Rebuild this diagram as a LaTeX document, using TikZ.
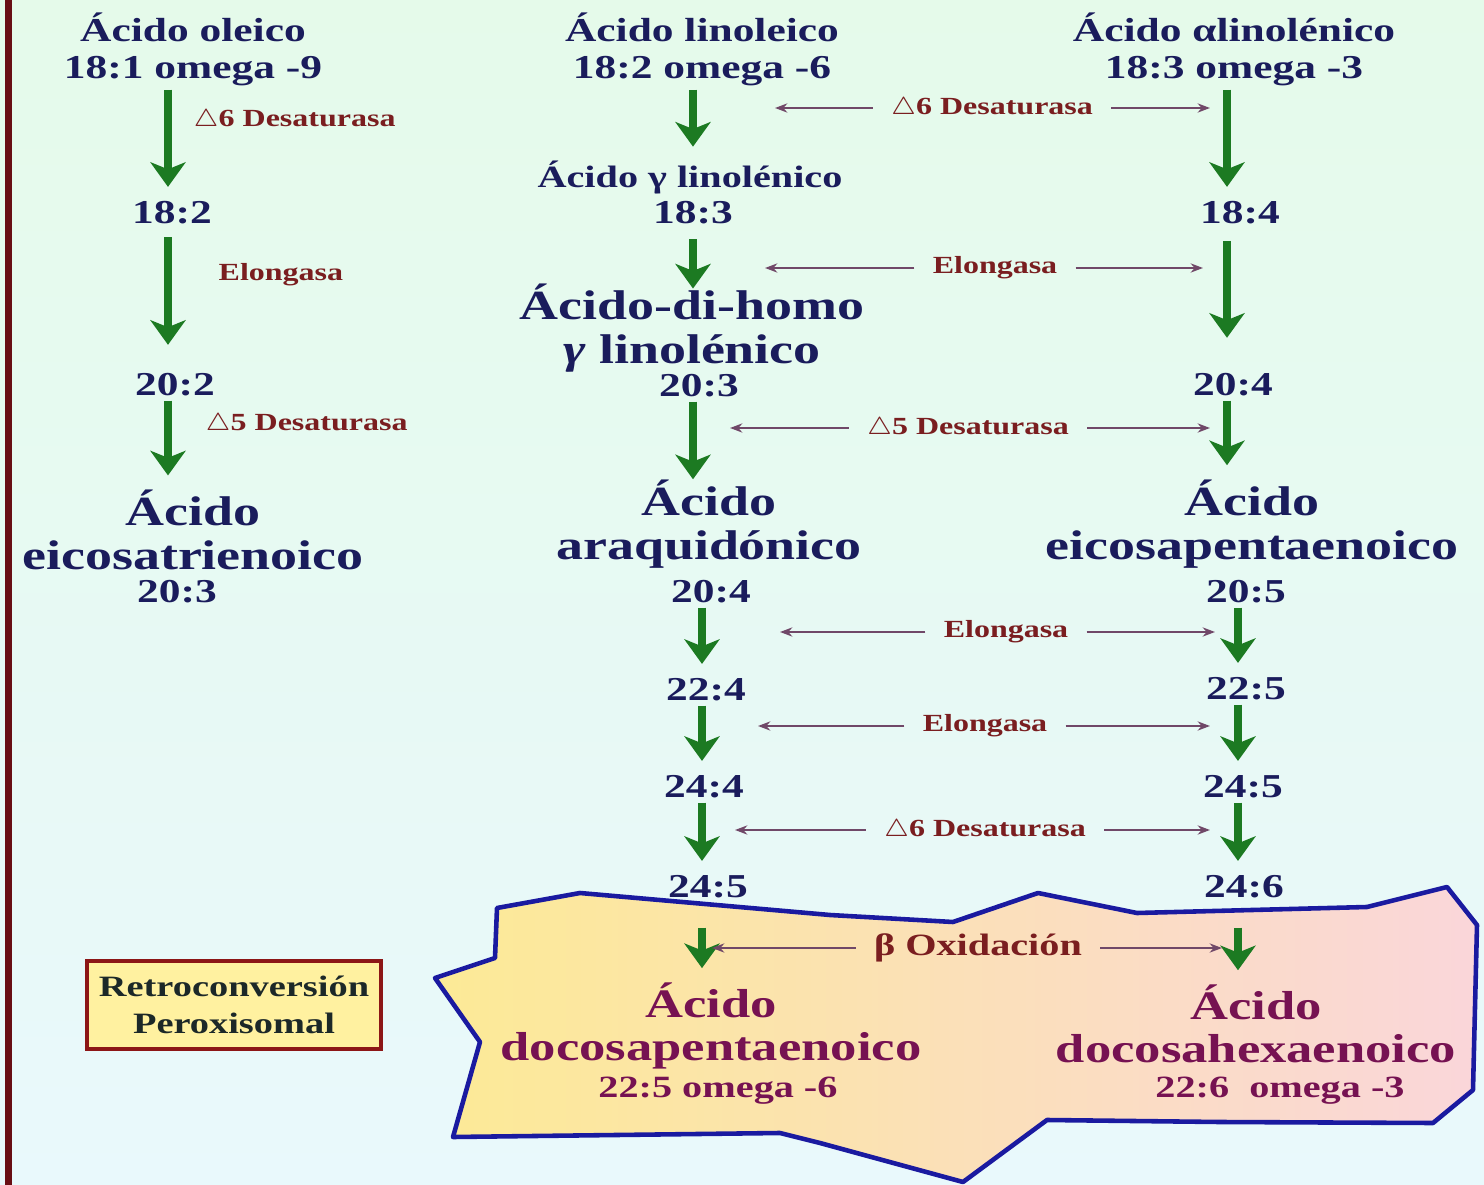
\documentclass[tikz,border=0pt]{standalone}
\usepackage{fontspec}
\setmainfont{Liberation Serif}[FakeStretch=1.3]
\usetikzlibrary{arrows.meta}

\definecolor{acidblue}{RGB}{26,28,92}
\definecolor{enzred}{RGB}{122,30,32}
\definecolor{arrowgreen}{RGB}{28,122,34}
\definecolor{sidepurple}{RGB}{112,72,104}
\definecolor{dhapurple}{RGB}{118,18,82}
\definecolor{boxfill}{RGB}{255,241,160}
\definecolor{boxline}{RGB}{140,22,22}
\definecolor{polyline}{RGB}{26,26,160}
\definecolor{polyyellow}{RGB}{252,234,150}
\definecolor{polypeach}{RGB}{251,212,172}
\definecolor{polypink}{RGB}{250,214,218}
\definecolor{bgtop}{RGB}{229,250,234}
\definecolor{bgbot}{RGB}{233,249,252}
\definecolor{barred}{RGB}{104,14,20}

\begin{document}
\begin{tikzpicture}[x=0.01cm, y=-0.01cm,
    acid/.style={font=\fontsize{9.5}{10.5}\selectfont\bfseries, text=acidblue, align=center, inner sep=1pt},
    bigacid/.style={font=\fontsize{11.8}{12.4}\selectfont\bfseries, text=acidblue, align=center, inner sep=1pt},
    dhaname/.style={font=\fontsize{11.5}{12.2}\selectfont\bfseries, text=dhapurple, align=center, inner sep=1pt},
    enz/.style={font=\fontsize{7}{8}\selectfont\bfseries, text=enzred, inner sep=0pt},
    enzmid/.style={enz, inner xsep=5pt},
    greenarrow/.style={draw=arrowgreen, line width=2.3pt, shorten >=3pt, -{Stealth[length=7pt, width=10pt, inset=2pt]}},
    enzarrow/.style={draw=sidepurple, line width=0.6pt, -{Stealth[length=3.5pt, width=2.6pt]}},
    retrobox/.style={draw=boxline, line width=1.2pt, fill=boxfill, minimum width=2.93cm, minimum height=0.88cm,
        font=\fontsize{8.4}{10.5}\selectfont\bfseries, text={rgb,255:red,28;green,40;blue,40}, align=center}]

    % Background and left bar
    \shade[top color=bgtop, bottom color=bgbot] (0,0) rectangle (1484,1185);
    \fill[barred] (5,0) rectangle (12,1185);
    \useasboundingbox (0,0) rectangle (1484,1185);

    % Peroxisome region
    \shadedraw[left color=polyyellow, middle color=polypeach, right color=polypink, draw=polyline, line width=1.3pt, line join=round]
        (497,908) -- (580,893) -- (830,915) -- (953,922) -- (1038,893) -- (1137,913) -- (1367,907)
        -- (1447,887) -- (1477,925) -- (1473,1090) -- (1433,1123) -- (1220,1122) -- (1047,1120)
        -- (963,1182) -- (820,1143) -- (780,1133) -- (453,1137) -- (480,1042) -- (435,978)
        -- (495,958) -- cycle;

    % Retroconversion label
    \node[retrobox] (retro) at (234,1005) {Retroconversión\\Peroxisomal};

    % Column 1: omega-9
    \node[acid] (ole) at (193,49) {Ácido oleico\\18:1 omega -9};
    \node[acid] (c182a) at (172,213) {18:2};
    \node[acid] (c202) at (175,385) {20:2};
    \node[bigacid] (eta) at (193,530) {Ácido\\eicosatrienoico};
    \node[acid] (c203a) at (177,592) {20:3};
    \node[enz, anchor=west] (d6o) at (193,120) {$\triangle$6 Desaturasa};
    \node[enz, anchor=west] (elo) at (218,275) {Elongasa};
    \node[enz, anchor=west] (d5o) at (205,424) {$\triangle$5 Desaturasa};

    % Column 2: omega-6
    \node[acid] (lin) at (702,49) {Ácido linoleico\\18:2 omega -6};
    \node[acid, font=\fontsize{8.8}{10}\selectfont\bfseries] (gla) at (690,178) {Ácido γ linolénico};
    \node[acid] (c183) at (693,213) {18:3};
    \node[bigacid] (dgla) at (692,328) {Ácido-di-homo\\\textit{γ} linolénico};
    \node[acid] (c203b) at (699,386) {20:3};
    \node[bigacid] (ara) at (709,524) {Ácido\\araquidónico};
    \node[acid] (c204a) at (711,592) {20:4};
    \node[acid] (c224) at (706,690) {22:4};
    \node[acid] (c244) at (704,787) {24:4};
    \node[acid] (c245a) at (708,887) {24:5};
    \node[dhaname] (dpa) at (711,1026) {Ácido\\docosapentaenoico};
    \node[acid, text=dhapurple, font=\fontsize{8.8}{10}\selectfont\bfseries] (dpan) at (718,1091) {22:5 omega -6};

    % Column 3: omega-3
    \node[acid] (ala) at (1234,49) {Ácido αlinolénico\\18:3 omega -3};
    \node[acid] (c184) at (1240,213) {18:4};
    \node[acid] (c204b) at (1233,385) {20:4};
    \node[bigacid] (epa) at (1252,524) {Ácido\\eicosapentaenoico};
    \node[acid] (c205) at (1246,592) {20:5};
    \node[acid] (c225) at (1246,689) {22:5};
    \node[acid] (c245b) at (1243,787) {24:5};
    \node[acid] (c246) at (1244,887) {24:6};
    \node[dhaname] (dha) at (1256,1024) {Ácido\\docosahexaenoico};
    \node[acid, text=dhapurple, font=\fontsize{8.8}{10}\selectfont\bfseries] (dhan) at (1280,1091) {22:6\ \ omega -3};

    % Shared enzymes
    \node[enzmid] (d6a) at (992,108) {$\triangle$6 Desaturasa};
    \node[enzmid] (eloa) at (995,268) {Elongasa};
    \node[enzmid] (d5a) at (968,428) {$\triangle$5 Desaturasa};
    \node[enzmid] (elob) at (1006,632) {Elongasa};
    \node[enzmid] (eloc) at (985,726) {Elongasa};
    \node[enzmid] (d6b) at (985,830) {$\triangle$6 Desaturasa};
    \node[enzmid, font=\fontsize{8.8}{10}\selectfont\bfseries] (boxi) at (978,948) {β Oxidación};

    % Arrow columns
    \coordinate (k1) at (168,0);
    \coordinate (k2a) at (693,0);
    \coordinate (k2b) at (702,0);
    \coordinate (k3a) at (1227,0);
    \coordinate (k3b) at (1238,0);

    % Green arrows, column 1
    \draw[greenarrow] (k1 |- ole.south) -- (k1 |- c182a.north);
    \draw[greenarrow, shorten <=2.5pt, shorten >=7pt] (k1 |- c182a.south) -- (k1 |- c202.north);
    \draw[greenarrow] (k1 |- c202.south) -- (k1 |- eta.north);

    % Green arrows, column 2
    \draw[greenarrow] (k2a |- lin.south) -- (k2a |- gla.north);
    \draw[greenarrow, shorten <=3pt, shorten >=-2.5pt] (k2a |- c183.south) -- (k2a |- dgla.north);
    \draw[greenarrow, shorten >=-1pt] (k2a |- c203b.south) -- (k2a |- ara.north);
    \draw[greenarrow] (k2b |- c204a.south) -- (k2b |- c224.north);
    \draw[greenarrow] (k2b |- c224.south) -- (k2b |- c244.north);
    \draw[greenarrow] (k2b |- c244.south) -- (k2b |- c245a.north);
    \draw[greenarrow] (k2b |- c245a.south) ++(0,25) -- (k2b |- dpa.north);

    % Green arrows, column 3
    \draw[greenarrow] (k3a |- ala.south) -- (k3a |- c184.north);
    \draw[greenarrow, shorten <=3.5pt, shorten >=9pt] (k3a |- c184.south) -- (k3a |- c204b.north);
    \draw[greenarrow] (k3a |- c204b.south) -- (k3a |- epa.north);
    \draw[greenarrow] (k3b |- c205.south) -- (k3b |- c225.north);
    \draw[greenarrow] (k3b |- c225.south) -- (k3b |- c245b.north);
    \draw[greenarrow] (k3b |- c245b.south) -- (k3b |- c246.north);
    \draw[greenarrow] (k3b |- c246.south) ++(0,25) -- (k3b |- dha.north);

    % Enzyme arrow ends
    \coordinate (d6aL) at (775,108);   \coordinate (d6aR) at (1210,108);
    \coordinate (eloaL) at (765,268);  \coordinate (eloaR) at (1203,268);
    \coordinate (d5aL) at (730,428);   \coordinate (d5aR) at (1210,428);
    \coordinate (elobL) at (780,632);  \coordinate (elobR) at (1215,632);
    \coordinate (elocL) at (758,726);  \coordinate (elocR) at (1210,726);
    \coordinate (d6bL) at (735,830);   \coordinate (d6bR) at (1210,830);
    \coordinate (boxiL) at (712,948);  \coordinate (boxiR) at (1222,948);

    % Enzyme arrows
    \draw[enzarrow] (d6a) -- (d6aL);   \draw[enzarrow] (d6a) -- (d6aR);
    \draw[enzarrow] (eloa) -- (eloaL); \draw[enzarrow] (eloa) -- (eloaR);
    \draw[enzarrow] (d5a) -- (d5aL);   \draw[enzarrow] (d5a) -- (d5aR);
    \draw[enzarrow] (elob) -- (elobL); \draw[enzarrow] (elob) -- (elobR);
    \draw[enzarrow] (eloc) -- (elocL); \draw[enzarrow] (eloc) -- (elocR);
    \draw[enzarrow] (d6b) -- (d6bL);   \draw[enzarrow] (d6b) -- (d6bR);
    \draw[enzarrow] (boxi) -- (boxiL); \draw[enzarrow] (boxi) -- (boxiR);
\end{tikzpicture}
\end{document}
